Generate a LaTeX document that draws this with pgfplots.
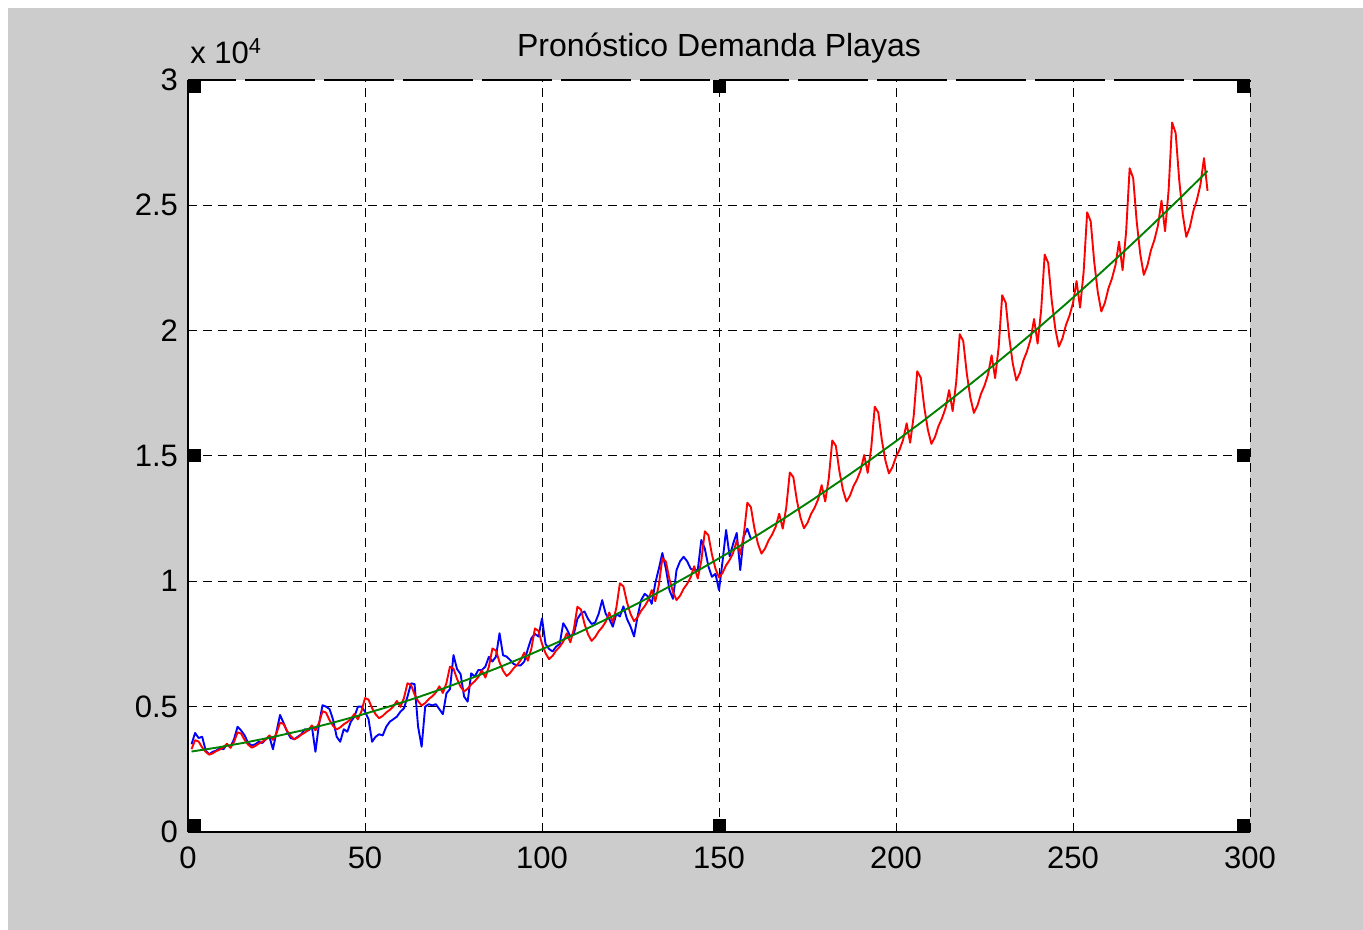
\documentclass[border=0pt]{standalone}
\usepackage{fontspec}
\setmainfont{Liberation Sans}
\usepackage{pgfplots}
\pgfplotsset{compat=1.18}
\definecolor{figgray}{RGB}{204,204,204}
\definecolor{mgreen}{RGB}{0,128,0}

\begin{document}
\begin{tikzpicture}[font=\fontsize{15.5}{18}\selectfont]
% figure window background
\fill[white] (0,0) rectangle (681.5pt,465pt);
\fill[figgray] (4pt,0) rectangle (681.5pt,461pt);

\begin{axis}[
name=ax,
at={(94pt,49pt)},anchor=south west,
scale only axis,width=531pt,height=376pt,
xmin=0,xmax=300,ymin=0,ymax=30000,
axis background/.style={fill=white},
axis x line*=bottom,axis y line*=left,
axis line style={black,line width=0.6pt},
xtick={0,50,...,300},
ytick={0,5000,10000,15000,20000,25000},
yticklabels={0,0.5,1,1.5,2,2.5},
extra y ticks={30000},extra y tick labels={3},
extra y tick style={grid=none},
scaled y ticks=false,
grid=major,
major grid style={black,line width=0.5pt,dash pattern=on 4.5pt off 3pt},
tick align=inside,major tick length=4pt,
tick style={black,line width=0.5pt},
/pgf/number format/assume math mode=true,
tick label style={font=\fontsize{15.5}{18}\selectfont},
xticklabel style={yshift=-4pt},
yticklabel style={xshift=-1.5pt},
line join=round
]

% real data (blue)
\addplot[blue,line width=0.95pt] coordinates {
(1,3500) (2,3950) (3,3750) (4,3800) (5,3250) (6,3100) (7,3200) (8,3250) (9,3350) (10,3300) (11,3500) (12,3400)
(13,3700) (14,4200) (15,4050) (16,3850) (17,3550) (18,3450) (19,3500) (20,3600) (21,3550) (22,3700) (23,3800) (24,3300)
(25,4000) (26,4670) (27,4350) (28,4000) (29,3750) (30,3700) (31,3800) (32,3900) (33,4100) (34,4050) (35,4200) (36,3200)
(37,4300) (38,5060) (39,5000) (40,4900) (41,4470) (42,3800) (43,3600) (44,4100) (45,4000) (46,4400) (47,4600) (48,5000)
(49,5000) (50,4800) (51,4500) (52,3600) (53,3800) (54,3900) (55,3850) (56,4200) (57,4400) (58,4500) (59,4600) (60,4800)
(61,4930) (62,5400) (63,5930) (64,5900) (65,4200) (66,3400) (67,5000) (68,5100) (69,5050) (70,5100) (71,4900) (72,4700)
(73,5530) (74,5700) (75,7060) (76,6500) (77,6300) (78,5400) (79,5200) (80,6330) (81,6200) (82,6460) (83,6460) (84,6600)
(85,6990) (86,6800) (87,7000) (88,7930) (89,7050) (90,7000) (91,6860) (92,6700) (93,6650) (94,6650) (95,6800) (96,7300)
(97,7730) (98,7900) (99,7800) (100,8520) (101,7500) (102,7300) (103,7200) (104,7400) (105,7500) (106,8330) (107,8100) (108,7800)
(109,7900) (110,8500) (111,8720) (112,8800) (113,8500) (114,8300) (115,8350) (116,8700) (117,9250) (118,8700) (119,8500) (120,8190)
(121,8700) (122,8600) (123,9000) (124,8500) (125,8200) (126,7800) (127,8600) (128,9250) (129,9500) (130,9390) (131,9100) (132,9930)
(133,10500) (134,11130) (135,10500) (136,9650) (137,9300) (138,10450) (139,10800) (140,10980) (141,10800) (142,10500) (143,10450) (144,10450)
(145,11650) (146,11300) (147,10600) (148,10180) (149,10300) (150,9650) (151,10800) (152,12050) (153,11000) (154,11500) (155,11930) (156,10450)
(157,11800) (158,12100) (159,11700)
};

% forecast (red)
\addplot[red,line width=0.95pt] coordinates {
(1,3306) (2,3661) (3,3610) (4,3371) (5,3196) (6,3086) (7,3140) (8,3228) (9,3292) (10,3377) (11,3521) (12,3356)
(13,3591) (14,3978) (15,3926) (16,3671) (17,3483) (18,3365) (19,3427) (20,3527) (21,3599) (22,3695) (23,3855) (24,3677)
(25,3936) (26,4364) (27,4310) (28,4032) (29,3829) (30,3700) (31,3771) (32,3883) (33,3965) (34,4072) (35,4251) (36,4057)
(37,4345) (38,4819) (39,4761) (40,4456) (41,4232) (42,4092) (43,4172) (44,4298) (45,4389) (46,4508) (47,4709) (48,4495)
(49,4814) (50,5342) (51,5279) (52,4942) (53,4695) (54,4540) (55,4630) (56,4770) (57,4872) (58,5005) (59,5229) (60,4992)
(61,5347) (62,5934) (63,5865) (64,5490) (65,5216) (66,5045) (67,5145) (68,5300) (69,5414) (70,5563) (71,5811) (72,5547)
(73,5942) (74,6594) (75,6517) (76,6101) (77,5796) (78,5606) (79,5716) (80,5889) (81,6015) (82,6180) (83,6454) (84,6161)
(85,6599) (86,7323) (87,7237) (88,6773) (89,6434) (90,6223) (91,6344) (92,6535) (93,6674) (94,6857) (95,7160) (96,6834)
(97,7319) (98,8120) (99,8023) (100,7509) (101,7131) (102,6896) (103,7029) (104,7239) (105,7392) (106,7593) (107,7927) (108,7565)
(109,8101) (110,8986) (111,8877) (112,8306) (113,7888) (114,7625) (115,7771) (116,8003) (117,8170) (118,8389) (119,8758) (120,8356)
(121,8946) (122,9921) (123,9798) (124,9166) (125,8702) (126,8411) (127,8570) (128,8823) (129,9006) (130,9246) (131,9649) (132,9204)
(133,9852) (134,10923) (135,10786) (136,10088) (137,9576) (138,9253) (139,9425) (140,9702) (141,9900) (142,10161) (143,10603) (144,10112)
(145,10820) (146,11994) (147,11841) (148,11073) (149,10507) (150,10151) (151,10338) (152,10639) (153,10853) (154,11138) (155,11618) (156,11078)
(157,11851) (158,13134) (159,12964) (160,12119) (161,11497) (162,11105) (163,11308) (164,11633) (165,11865) (166,12174) (167,12697) (168,12103)
(169,12945) (170,14343) (171,14154) (172,13228) (173,12547) (174,12116) (175,12334) (176,12686) (177,12936) (178,13270) (179,13836) (180,13186)
(181,14101) (182,15620) (183,15410) (184,14399) (185,13655) (186,13183) (187,13418) (188,13797) (189,14066) (190,14425) (191,15038) (192,14328)
(193,15318) (194,16966) (195,16733) (196,15632) (197,14822) (198,14306) (199,14557) (200,14966) (201,15255) (202,15641) (203,16302) (204,15529)
(205,16598) (206,18380) (207,18124) (208,16928) (209,16047) (210,15485) (211,15753) (212,16193) (213,16503) (214,16916) (215,17627) (216,16789)
(217,17942) (218,19861) (219,19583) (220,18287) (221,17331) (222,16721) (223,17007) (224,17479) (225,17808) (226,18252) (227,19015) (228,18107)
(229,19346) (230,21413) (231,21108) (232,19707) (233,18673) (234,18013) (235,18318) (236,18822) (237,19174) (238,19647) (239,20464) (240,19483)
(241,20813) (242,23032) (243,22700) (244,21190) (245,20074) (246,19361) (247,19685) (248,20223) (249,20597) (250,21102) (251,21976) (252,20919)
(253,22343) (254,24720) (255,24359) (256,22735) (257,21534) (258,20765) (259,21110) (260,21683) (261,22079) (262,22617) (263,23550) (264,22413)
(265,23934) (266,26477) (267,26086) (268,24342) (269,23053) (270,22226) (271,22591) (272,23200) (273,23621) (274,24192) (275,25185) (276,23966)
(277,25588) (278,28302) (279,27880) (280,26012) (281,24630) (282,23743) (283,24129) (284,24776) (285,25220) (286,25826) (287,26883) (288,25577)
};

% trend (green)
\addplot[mgreen,line width=0.95pt] coordinates {
(1,3210) (8,3363) (16,3564) (24,3791) (32,4045) (40,4326) (48,4634) (56,4969) (64,5330) (72,5719)
(80,6134) (88,6576) (96,7045) (104,7541) (112,8064) (120,8614) (128,9191) (136,9794) (144,10425) (152,11082)
(160,11766) (168,12477) (176,13215) (184,13980) (192,14771) (200,15590) (208,16435) (216,17308) (224,18207) (232,19133)
(240,20086) (248,21066) (256,22073) (264,23106) (272,24167) (280,25254) (288,26368)
};
\end{axis}

% top border drawn with long dashes
\draw[black,line width=0.6pt,dash pattern=on 35pt off 4.5pt,dash phase=11pt] (ax.north west) -- (ax.north east);

% selection handles
\fill[black] (ax.south west) rectangle ++(6.5pt,6.5pt);
\fill[black] (ax.south east) rectangle ++(-6.5pt,6.5pt);
\fill[black] (ax.north west) rectangle ++(6.5pt,-6.5pt);
\fill[black] (ax.north east) rectangle ++(-6.5pt,-6.5pt);
\fill[black] ([xshift=-3.25pt]ax.south) rectangle ++(6.5pt,6.5pt);
\fill[black] ([xshift=-3.25pt]ax.north) rectangle ++(6.5pt,-6.5pt);
\fill[black] ([yshift=-3.25pt]ax.west) rectangle ++(6.5pt,6.5pt);
\fill[black] ([yshift=-3.25pt]ax.east) rectangle ++(-6.5pt,6.5pt);

\node[anchor=base,font=\fontsize{16}{19}\selectfont] at ([yshift=11.5pt]ax.north) {Pronóstico Demanda Playas};
\node[anchor=base west,inner sep=0pt] at ([xshift=1pt,yshift=8pt]ax.north west) {x 10\textsuperscript{4}};
\end{tikzpicture}
\end{document}
